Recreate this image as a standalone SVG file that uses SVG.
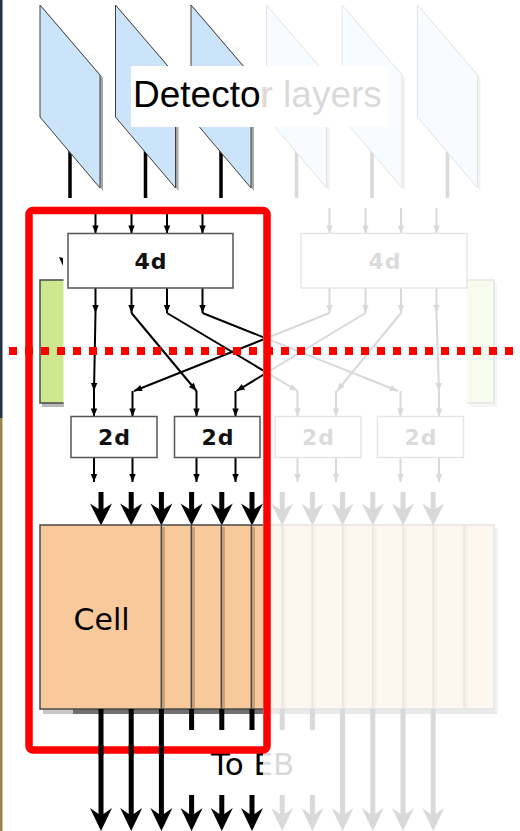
<svg xmlns="http://www.w3.org/2000/svg" width="520" height="831" viewBox="0 0 520 831">
<style>
.det{fill:#cce4fa;stroke:#404040;stroke-width:1}
.dsh{fill:#a8a8a8}
.dl{stroke:#000;stroke-width:3.5}
.box{fill:#fff;stroke:#555;stroke-width:1.5}
.bt{font-family:"DejaVu Sans",sans-serif;font-weight:bold;font-size:22px;fill:#111;text-anchor:middle;letter-spacing:1px}
.ln{stroke:#000;stroke-width:2;fill:none;marker-end:url(#ah)}
.big{fill:#000}
.div{stroke:#4a4a4a;stroke-width:1.5}
.shd{fill:#c6a17c}
</style>
<defs>
<marker id="ah" viewBox="0 0 10 10" refX="10" refY="5" markerWidth="9" markerHeight="8" markerUnits="userSpaceOnUse" orient="auto"><path d="M0,1 L10,5 L0,9 z" fill="#000"/></marker>
</defs>
<rect x="0" y="0" width="2.5" height="418" fill="#1f3344"/>
<rect x="0" y="418" width="2.5" height="413" fill="#9c8449"/>
<g id="detectors">
<line class="dl" x1="70" y1="140" x2="70" y2="198"/>
<line class="dl" x1="145.5" y1="140" x2="145.5" y2="198"/>
<line class="dl" x1="221" y1="140" x2="221" y2="198"/>
<line class="dl" x1="296.5" y1="140" x2="296.5" y2="198"/>
<line class="dl" x1="372" y1="140" x2="372" y2="198"/>
<line class="dl" x1="447.5" y1="140" x2="447.5" y2="198"/>
<g id="layer1"><polygon class="dsh" points="43,8 103,78 103,191 43,120"/><polygon class="det" points="40,5 100,75 100,188 40,117"/></g>
<g id="layer2"><polygon class="dsh" points="118.5,8 178.5,78 178.5,191 118.5,120"/><polygon class="det" points="115.5,5 175.5,75 175.5,188 115.5,117"/></g>
<g id="layer3"><polygon class="dsh" points="194,8 254,78 254,191 194,120"/><polygon class="det" points="191,5 251,75 251,188 191,117"/></g>
<g id="layer4"><polygon class="dsh" points="269.5,8 329.5,78 329.5,191 269.5,120"/><polygon class="det" points="266.5,5 326.5,75 326.5,188 266.5,117"/></g>
<g id="layer5"><polygon class="dsh" points="345,8 405,78 405,191 345,120"/><polygon class="det" points="342,5 402,75 402,188 342,117"/></g>
<g id="layer6"><polygon class="dsh" points="420.5,8 480.5,78 480.5,191 420.5,120"/><polygon class="det" points="417.5,5 477.5,75 477.5,188 417.5,117"/></g>
</g>
<g id="label-detector">
<rect x="131" y="66" width="257" height="61" fill="#fff"/>
<text x="133" y="107" font-family="Liberation Sans, Arial, sans-serif" font-size="37" fill="#000">Detector layers</text>
</g>
<g id="green-left">
<rect x="42" y="403" width="22" height="4" fill="#b8b8b8"/>
<rect x="40" y="280" width="23.5" height="123" fill="#cde88e"/>
<path d="M63.5,280 H40 V403 H63.5" fill="none" stroke="#4a4a4a" stroke-width="1.5"/>
<path d="M59,257 L63,258 L63,266 Z" fill="#000"/>
</g>
<g id="green-right">
<rect x="470" y="283" width="27" height="124" fill="#b8b8b8"/>
<rect x="467" y="280" width="27" height="123" fill="#cde88e"/>
<path d="M467,280 H494 V403 H467" fill="none" stroke="#4a4a4a" stroke-width="1.5"/>
</g>
<g id="connectors">
<line class="ln" x1="95.5" y1="211" x2="95.5" y2="233.5"/>
<line class="ln" x1="131.5" y1="211" x2="131.5" y2="233.5"/>
<line class="ln" x1="167" y1="211" x2="167" y2="233.5"/>
<line class="ln" x1="202.5" y1="211" x2="202.5" y2="233.5"/>
<line class="ln" x1="329.5" y1="208" x2="329.5" y2="233.5"/>
<line class="ln" x1="365.5" y1="208" x2="365.5" y2="233.5"/>
<line class="ln" x1="401" y1="208" x2="401" y2="233.5"/>
<line class="ln" x1="436.5" y1="208" x2="436.5" y2="233.5"/>
<line class="ln" x1="95.5" y1="288" x2="95.5" y2="313"/>
<line class="ln" x1="131.5" y1="288" x2="131.5" y2="313"/>
<line class="ln" x1="167" y1="288" x2="167" y2="313"/>
<line class="ln" x1="202.5" y1="288" x2="202.5" y2="313"/>
<line class="ln" x1="329.5" y1="288" x2="329.5" y2="313"/>
<line class="ln" x1="365.5" y1="288" x2="365.5" y2="313"/>
<line class="ln" x1="401" y1="288" x2="401" y2="313"/>
<line class="ln" x1="436.5" y1="288" x2="436.5" y2="313"/>
<line class="ln" x1="95.5" y1="313" x2="94" y2="391"/>
<line class="ln" x1="131.5" y1="313" x2="196.5" y2="391"/>
<line class="ln" x1="167" y1="313" x2="297.5" y2="391"/>
<line class="ln" x1="202.5" y1="313" x2="398" y2="391"/>
<line class="ln" x1="329.5" y1="313" x2="134" y2="391"/>
<line class="ln" x1="365.5" y1="313" x2="236.5" y2="391"/>
<line class="ln" x1="401" y1="313" x2="337" y2="391"/>
<line class="ln" x1="436.5" y1="313" x2="439" y2="391"/>
<line class="ln" x1="94" y1="391" x2="94" y2="416.5"/>
<line class="ln" x1="132.5" y1="391" x2="132.5" y2="416.5"/>
<line class="ln" x1="196.5" y1="391" x2="196.5" y2="416.5"/>
<line class="ln" x1="235.5" y1="391" x2="235.5" y2="416.5"/>
<line class="ln" x1="297.5" y1="391" x2="297.5" y2="416.5"/>
<line class="ln" x1="336" y1="391" x2="336" y2="416.5"/>
<line class="ln" x1="400.5" y1="391" x2="400.5" y2="416.5"/>
<line class="ln" x1="439" y1="391" x2="439" y2="416.5"/>
<line class="ln" x1="94" y1="457.5" x2="94" y2="482"/>
<line class="ln" x1="132.5" y1="457.5" x2="132.5" y2="482"/>
<line class="ln" x1="196.5" y1="457.5" x2="196.5" y2="482"/>
<line class="ln" x1="235.5" y1="457.5" x2="235.5" y2="482"/>
<line class="ln" x1="297.5" y1="457.5" x2="297.5" y2="482"/>
<line class="ln" x1="336" y1="457.5" x2="336" y2="482"/>
<line class="ln" x1="400.5" y1="457.5" x2="400.5" y2="482"/>
<line class="ln" x1="439" y1="457.5" x2="439" y2="482"/>
</g>
<g id="box-4d-left"><rect class="box" x="68" y="233.5" width="165" height="54.5"/><text class="bt" x="151" y="268.5">4d</text></g>
<g id="box-4d-right"><rect class="box" x="301" y="233.5" width="166" height="54.5"/><text class="bt" x="385" y="268.5">4d</text></g>
<g id="box-2d-1"><rect class="box" x="71" y="416.5" width="86" height="41"/><text class="bt" x="114.5" y="445">2d</text></g>
<g id="box-2d-2"><rect class="box" x="174.5" y="416.5" width="85.5" height="41"/><text class="bt" x="218" y="445">2d</text></g>
<g id="box-2d-3"><rect class="box" x="275" y="416.5" width="86" height="41"/><text class="bt" x="318.5" y="445">2d</text></g>
<g id="box-2d-4"><rect class="box" x="377.5" y="416.5" width="86" height="41"/><text class="bt" x="421" y="445">2d</text></g>
<g id="big-arrows-in">
<path class="big" d="M98.5,492 H103.5 V509 L112,503.5 L101,525.5 L90,503.5 L98.5,509 Z"/>
<path class="big" d="M128.7,492 H133.7 V509 L142.2,503.5 L131.2,525.5 L120.2,503.5 L128.7,509 Z"/>
<path class="big" d="M158.9,492 H163.9 V509 L172.4,503.5 L161.4,525.5 L150.4,503.5 L158.9,509 Z"/>
<path class="big" d="M189.1,492 H194.1 V509 L202.6,503.5 L191.6,525.5 L180.6,503.5 L189.1,509 Z"/>
<path class="big" d="M219.3,492 H224.3 V509 L232.8,503.5 L221.8,525.5 L210.8,503.5 L219.3,509 Z"/>
<path class="big" d="M249.5,492 H254.5 V509 L263,503.5 L252,525.5 L241,503.5 L249.5,509 Z"/>
<path class="big" d="M279.7,492 H284.7 V509 L293.2,503.5 L282.2,525.5 L271.2,503.5 L279.7,509 Z"/>
<path class="big" d="M309.9,492 H314.9 V509 L323.4,503.5 L312.4,525.5 L301.4,503.5 L309.9,509 Z"/>
<path class="big" d="M340.1,492 H345.1 V509 L353.6,503.5 L342.6,525.5 L331.6,503.5 L340.1,509 Z"/>
<path class="big" d="M370.3,492 H375.3 V509 L383.8,503.5 L372.8,525.5 L361.8,503.5 L370.3,509 Z"/>
<path class="big" d="M400.5,492 H405.5 V509 L414,503.5 L403,525.5 L392,503.5 L400.5,509 Z"/>
<path class="big" d="M430.7,492 H435.7 V509 L444.2,503.5 L433.2,525.5 L422.2,503.5 L430.7,509 Z"/>
</g>
<g id="cell">
<rect x="43" y="709" width="30" height="5" fill="#c8c8c8"/>
<rect x="73" y="709" width="424" height="5" fill="#707070"/>
<rect x="494" y="528" width="3.5" height="184" fill="#9a9a9a"/>
<rect x="40" y="525" width="454" height="184" fill="#f8c99a" stroke="#4a4a4a" stroke-width="1.5"/>
<rect class="shd" x="162" y="527" width="3" height="181"/>
<rect class="shd" x="192" y="527" width="3" height="181"/>
<rect class="shd" x="222" y="527" width="3" height="181"/>
<rect class="shd" x="252" y="527" width="3" height="181"/>
<rect class="shd" x="283" y="527" width="3" height="181"/>
<rect class="shd" x="313" y="527" width="3" height="181"/>
<rect class="shd" x="343.5" y="527" width="3" height="181"/>
<rect class="shd" x="373.5" y="527" width="3" height="181"/>
<rect class="shd" x="404" y="527" width="3" height="181"/>
<rect class="shd" x="434" y="527" width="3" height="181"/>
<rect class="shd" x="464.8" y="527" width="3" height="181"/>
<line class="div" x1="161.3" y1="525" x2="161.3" y2="709"/>
<line class="div" x1="191.3" y1="525" x2="191.3" y2="709"/>
<line class="div" x1="221.3" y1="525" x2="221.3" y2="709"/>
<line class="div" x1="251.3" y1="525" x2="251.3" y2="709"/>
<line class="div" x1="282.3" y1="525" x2="282.3" y2="709"/>
<line class="div" x1="312.3" y1="525" x2="312.3" y2="709"/>
<line class="div" x1="342.7" y1="525" x2="342.7" y2="709"/>
<line class="div" x1="372.7" y1="525" x2="372.7" y2="709"/>
<line class="div" x1="403.3" y1="525" x2="403.3" y2="709"/>
<line class="div" x1="433.3" y1="525" x2="433.3" y2="709"/>
<line class="div" x1="464" y1="525" x2="464" y2="709"/>
<text x="73.5" y="630" font-family="DejaVu Sans, sans-serif" font-size="30" fill="#000">Cell</text>
</g>
<g id="big-arrows-out">
<path class="big" d="M98.5,709 H103.5 V814 L112,808 L101,831 L90,808 L98.5,814 Z"/>
<path class="big" d="M128.7,709 H133.7 V814 L142.2,808 L131.2,831 L120.2,808 L128.7,814 Z"/>
<path class="big" d="M158.9,709 H163.9 V814 L172.4,808 L161.4,831 L150.4,808 L158.9,814 Z"/>
<path class="big" d="M189.1,709 H194.1 V814 L202.6,808 L191.6,831 L180.6,808 L189.1,814 Z"/>
<path class="big" d="M219.3,709 H224.3 V814 L232.8,808 L221.8,831 L210.8,808 L219.3,814 Z"/>
<path class="big" d="M249.5,709 H254.5 V814 L263,808 L252,831 L241,808 L249.5,814 Z"/>
<path class="big" d="M279.7,709 H284.7 V814 L293.2,808 L282.2,831 L271.2,808 L279.7,814 Z"/>
<path class="big" d="M309.9,709 H314.9 V814 L323.4,808 L312.4,831 L301.4,808 L309.9,814 Z"/>
<path class="big" d="M340.1,709 H345.1 V814 L353.6,808 L342.6,831 L331.6,808 L340.1,814 Z"/>
<path class="big" d="M370.3,709 H375.3 V814 L383.8,808 L372.8,831 L361.8,808 L370.3,814 Z"/>
<path class="big" d="M400.5,709 H405.5 V814 L414,808 L403,831 L392,808 L400.5,814 Z"/>
<path class="big" d="M430.7,709 H435.7 V814 L444.2,808 L433.2,831 L422.2,808 L430.7,814 Z"/>
</g>
<g id="label-toeb">
<rect x="170" y="730" width="157" height="65" fill="#fff"/>
<text x="211" y="775" font-family="DejaVu Sans, sans-serif" font-size="31" fill="#000">To EB</text>
</g>
<rect id="fade" x="263" y="0" width="257" height="831" fill="#fff" fill-opacity="0.85"/>
<g id="highlight">
<rect x="29" y="210.5" width="238" height="539.5" rx="4" fill="none" stroke="#ff0000" stroke-width="7.5"/>
<line x1="9" y1="351" x2="520" y2="351" stroke="#ff0000" stroke-width="8" stroke-dasharray="8 8"/>
</g>
<g id="stems-over">
<rect x="98.5" y="745" width="5" height="10" fill="#000"/>
<rect x="128.7" y="745" width="5" height="10" fill="#000"/>
<rect x="158.9" y="745" width="5" height="10" fill="#000"/>
</g>
</svg>
